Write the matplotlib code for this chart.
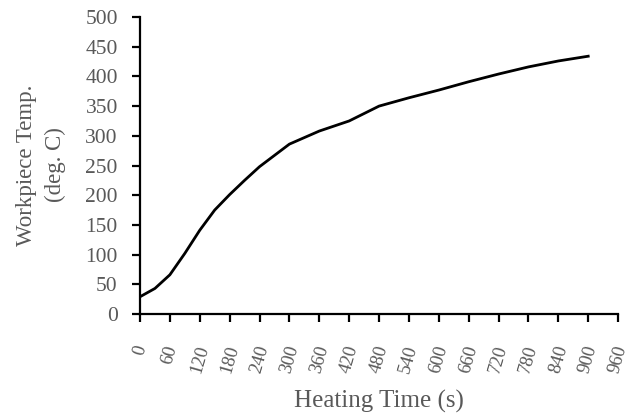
import matplotlib.pyplot as plt

# heating time (s) and workpiece temperature (deg C)
time_s = [0, 30, 60, 90, 120, 150, 180, 210, 240, 270, 300, 360, 420, 480,
          540, 600, 660, 720, 780, 840, 900]
temp_c = [29, 43, 66, 102, 141, 175, 201, 225, 248, 267, 286, 308, 325, 350,
          364, 377, 391, 404, 416, 426, 434]

x_ticks = list(range(0, 961, 60))
y_ticks = list(range(0, 501, 50))

plt.rcParams['font.family'] = ['Liberation Serif', 'DejaVu Serif']
grey = '#595959'

fig = plt.figure(figsize=(6.32, 4.15), dpi=100)
ax = fig.add_axes([0.2215, 0.2434, 0.7565, 0.7156])

ax.plot(time_s, temp_c, color='black', linewidth=2)

ax.set_xlim(0, 960)
ax.set_ylim(0, 500)
ax.set_xticks(x_ticks)
ax.set_yticks(y_ticks)

for side in ['top', 'right']:
    ax.spines[side].set_visible(False)
for side in ['left', 'bottom']:
    ax.spines[side].set_linewidth(1.6)
    ax.spines[side].set_color('black')

ax.tick_params(axis='both', direction='out', length=6, width=1.6, colors='black',
               labelcolor=grey)
ax.tick_params(axis='y', labelsize=15.5, pad=10)
ax.tick_params(axis='x', labelsize=13.5, pad=15, labelrotation=74)
for lbl in ax.get_xticklabels():
    lbl.set_ha('center')
    lbl.set_va('top')

fig.text(379 / 632, 1 - 401 / 415, 'Heating Time (s)', fontsize=18, color=grey,
         ha='center', va='center')
fig.text(41 / 632, 1 - 165 / 415, 'Workpiece Temp.\n(deg. C)', fontsize=16.5,
         color=grey, ha='center', va='center', rotation=90, linespacing=1.45,
         multialignment='center')

fig.savefig('out.png', dpi=100)
